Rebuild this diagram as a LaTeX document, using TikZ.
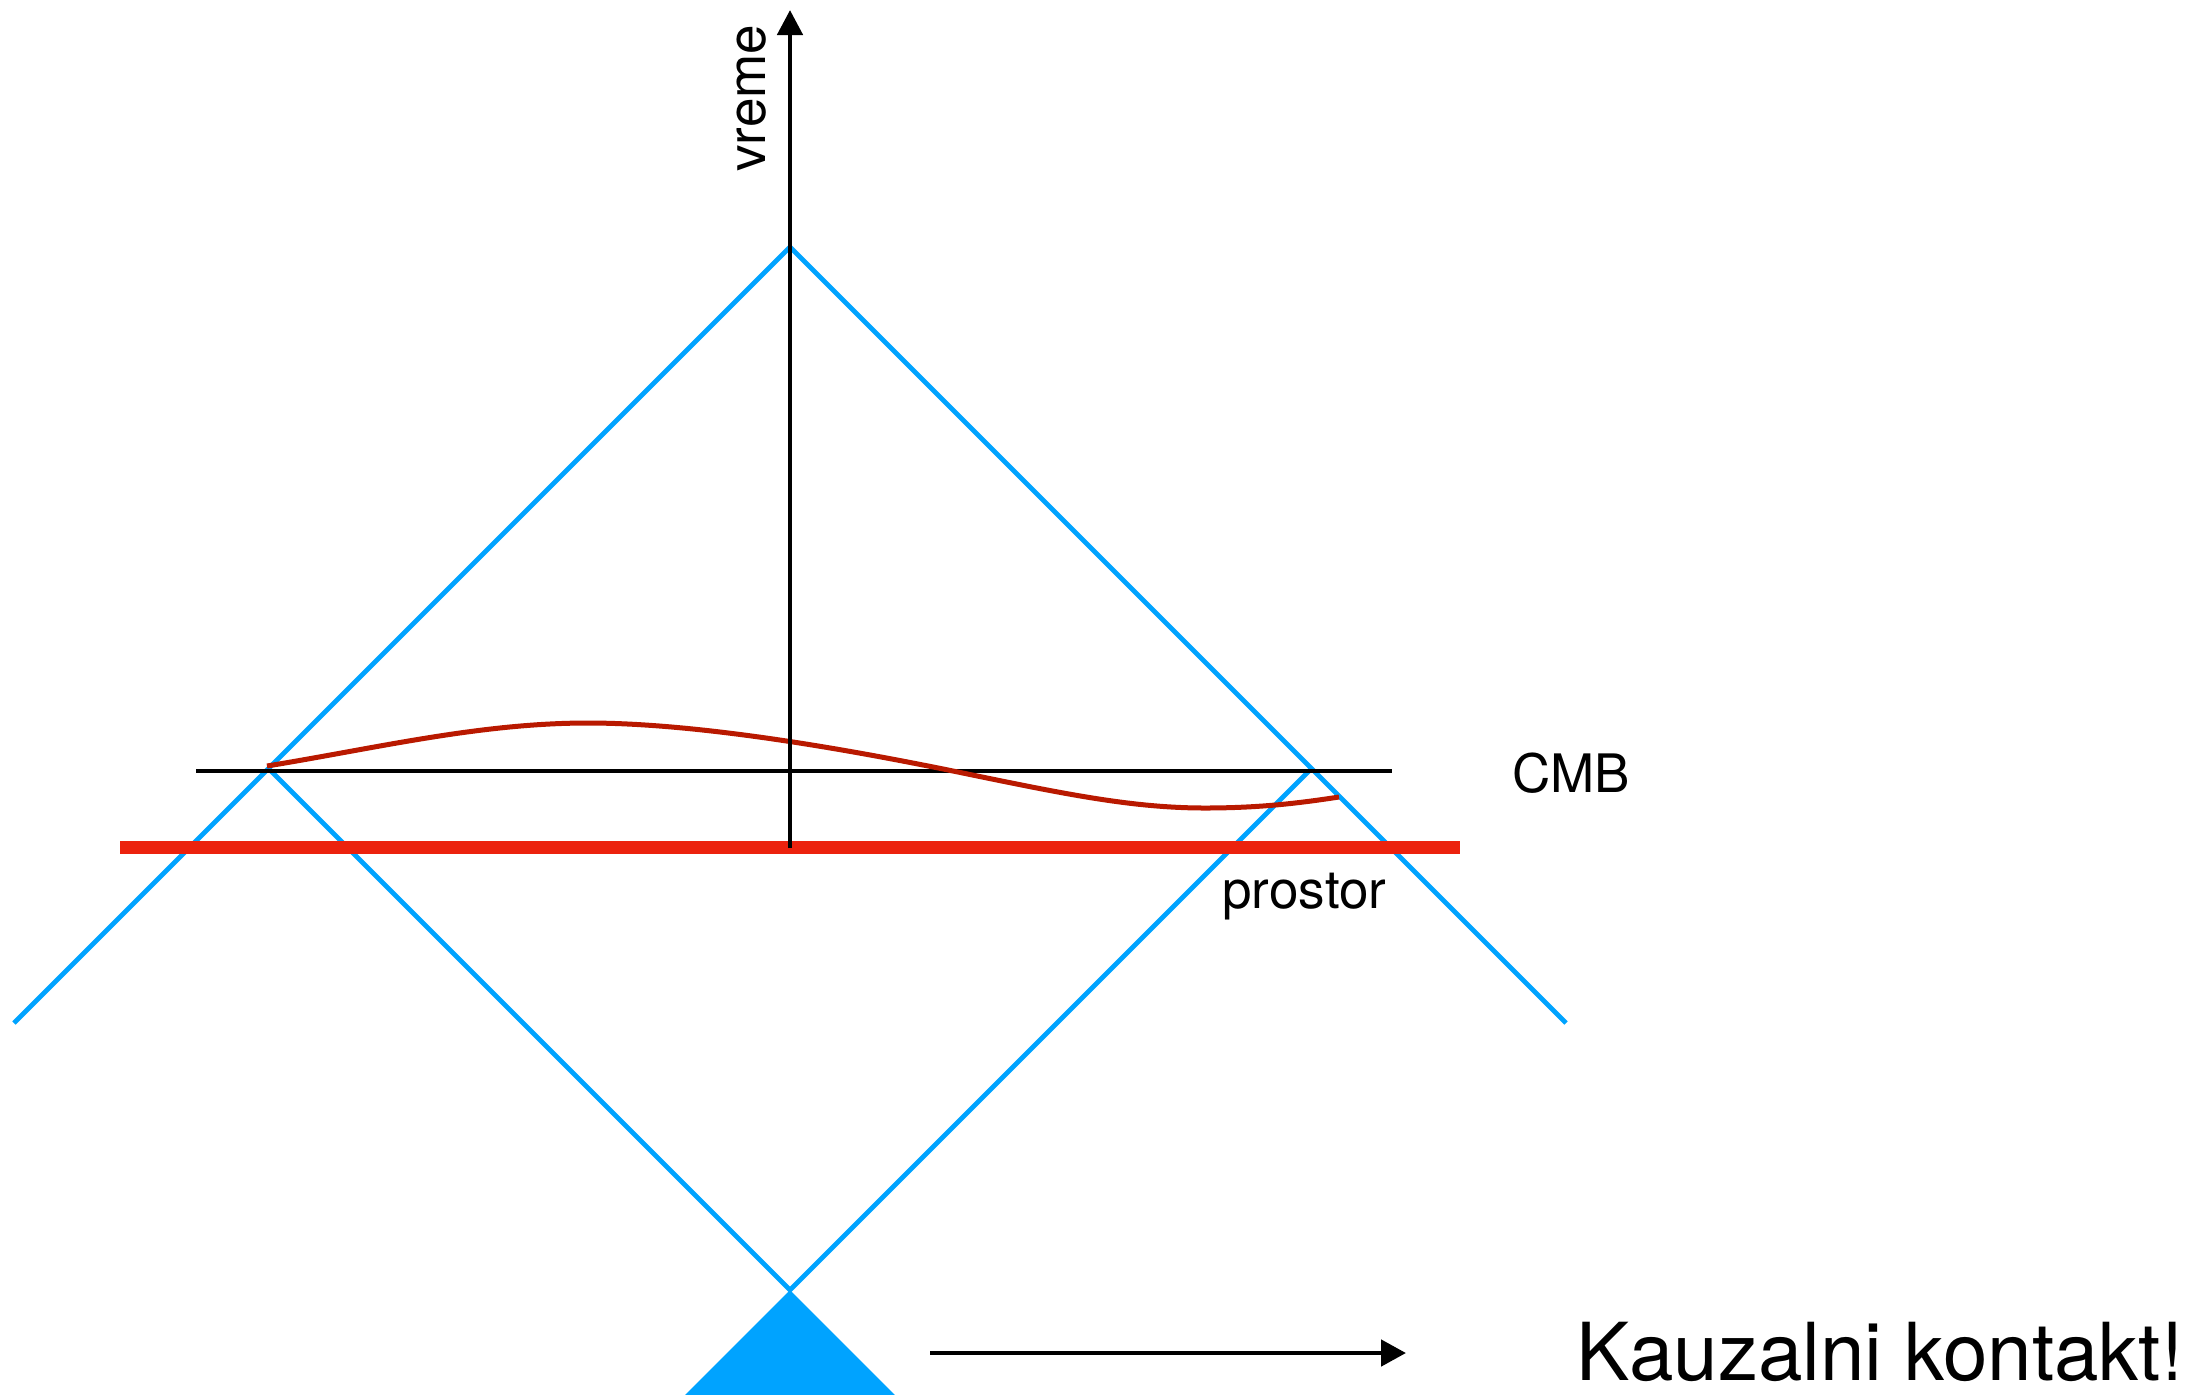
\documentclass[tikz,border=0pt]{standalone}
\usepackage{fontspec}
\setmainfont{TeX Gyre Heros}
\usetikzlibrary{arrows.meta}

\begin{document}
\begin{tikzpicture}[x=0.5pt,y=0.5pt,yscale=-1,xscale=1,
  cone/.style={color={rgb, 255:red, 0; green, 163; blue, 255 }, line width=2.4pt},
  axis/.style={color=black, line width=2.4pt},
  lbl/.style={anchor=base west, inner sep=0pt, font=\fontsize{26.5}{30}\selectfont}]
\useasboundingbox (0,0) rectangle (2197,1394);

% points
\coordinate (top) at (790,247);
\coordinate (bot) at (790,1290);
\coordinate (lend) at (14,1023);
\coordinate (rend) at (1566,1023);
\coordinate (lcut) at (268.5,768.5);
\coordinate (rcut) at (1311.5,768.5);
\coordinate (axlo) at (790,848);
\coordinate (axhi) at (790,10);

%Straight Lines (cones)
\draw [cone] (lend) -- (top) -- (rend);
\draw [cone] (lcut) -- (bot) -- (rcut);
%Shape: Triangle
\fill [color={rgb, 255:red, 0; green, 163; blue, 255 }] (bot) -- (685,1395) -- (895,1395) -- cycle;

%Straight Lines (CMB)
\coordinate (cmba) at (196,771);
\coordinate (cmbb) at (1392,771);
\draw [axis] (cmba) -- (cmbb);
%Straight Lines (last scattering)
\coordinate (reda) at (120,847);
\coordinate (redb) at (1460,847);
\draw [color={rgb, 255:red, 236; green, 34; blue, 14 }, line width=6.5pt] (reda) -- (redb);

%Curve
\draw [color={rgb, 255:red, 185; green, 25; blue, 0 }, line width=2.5pt]
  (267,766) .. controls (377,748) and (480,723) .. (588,723)
  .. controls (700,723) and (850,750) .. (953,771)
  .. controls (1060,793) and (1130,808) .. (1205,808)
  .. controls (1260,808) and (1300,803) .. (1339,797);

%Straight Lines (time axis)
\draw [axis, -{Triangle[length=12.5pt,width=12.5pt]}] (axlo) -- (axhi);

%Straight Lines (arrow)
\coordinate (arra) at (930,1353);
\coordinate (arrb) at (1406,1353);
\draw [axis, -{Triangle[length=12.5pt,width=13pt]}] (arra) -- (arrb);

% Text Node
\node [lbl, rotate=90] (vreme) at (765,172) {vreme};
% Text Node
\node [lbl] (cmb) at (1512,792) {CMB};
% Text Node
\node [lbl] (prostor) at (1222,908) {prostor};
% Text Node
\node [lbl, font=\fontsize{40}{46}\selectfont] (kauzalni) at (1576,1380) {Kauzalni kontakt!};

\end{tikzpicture}
\end{document}
